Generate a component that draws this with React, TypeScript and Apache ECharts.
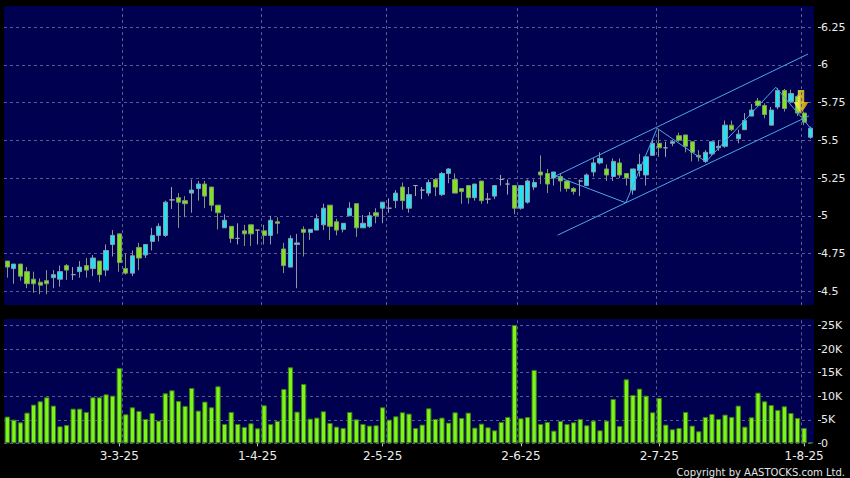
import React, { useEffect, useRef } from "react";
import * as echarts from "echarts";

// ---- data ----
const categories: string[] = Array.from({ length: 123 }, (_, i) => String(i));

const opens = [
  4.70, 4.65, 4.68, 4.63, 4.58, 4.56, 4.57, 4.59, 4.58, 4.67,
  4.61, 4.63, 4.67, 4.65, 4.70, 4.64, 4.81, 4.88, 4.65, 4.62,
  4.79, 4.74, 4.83, 4.87, 4.87, 5.105, 5.12, 5.10, 5.15, 5.18,
  5.21, 5.19, 5.07, 4.92, 4.93, 4.85, 4.90, 4.94, 4.905, 4.90,
  4.87, 4.96, 4.78, 4.66, 4.81, 4.91, 4.89, 4.905, 4.94, 5.07,
  4.96, 4.91, 5.00, 5.08, 4.92, 4.93, 5.02, 5.05, 5.05, 5.10,
  5.19, 5.05, 5.20, 5.17, 5.15, 5.24, 5.14, 5.28, 5.24, 5.18,
  5.20, 5.12, 5.23, 5.11, 5.13, 5.24, 5.21, 5.20, 5.05, 5.09,
  5.19, 5.29, 5.28, 5.25, 5.26, 5.23, 5.18, 5.23, 5.20, 5.29,
  5.35, 5.31, 5.26, 5.35, 5.28, 5.17, 5.30, 5.27, 5.40, 5.48,
  5.45, 5.48, 5.53, 5.535, 5.49, 5.40, 5.36, 5.41, 5.45, 5.46,
  5.60, 5.51, 5.57, 5.66, 5.76, 5.73, 5.60, 5.72, 5.83, 5.755,
  5.79, 5.68, 5.52,
];
const closes = [
  4.66, 4.68, 4.60, 4.55, 4.55, 4.54, 4.55, 4.61, 4.63, 4.64,
  4.61, 4.66, 4.64, 4.72, 4.61, 4.77, 4.87, 4.69, 4.62, 4.735,
  4.72, 4.81, 4.87, 4.93, 5.09, 5.105, 5.09, 5.08, 5.17, 5.21,
  5.13, 5.07, 5.02, 4.97, 4.85, 4.85, 4.88, 4.88, 4.905, 4.87,
  4.97, 4.95, 4.67, 4.85, 4.82, 4.89, 4.91, 4.98, 5.05, 4.93,
  4.905, 4.95, 5.05, 4.92, 4.95, 5.00, 5.00, 5.09, 5.05, 5.15,
  5.10, 5.14, 5.20, 5.17, 5.22, 5.19, 5.28, 5.31, 5.15, 5.16,
  5.12, 5.21, 5.10, 5.11, 5.20, 5.24, 5.21, 5.05, 5.20, 5.23,
  5.22, 5.27, 5.21, 5.29, 5.23, 5.18, 5.16, 5.23, 5.27, 5.35,
  5.38, 5.27, 5.36, 5.27, 5.25, 5.31, 5.34, 5.39, 5.48, 5.45,
  5.45, 5.49, 5.50, 5.46, 5.42, 5.39, 5.42, 5.49, 5.46, 5.60,
  5.57, 5.54, 5.63, 5.70, 5.73, 5.67, 5.70, 5.83, 5.71, 5.81,
  5.68, 5.62, 5.58,
];
const lows = [
  4.59, 4.55, 4.57, 4.52, 4.49, 4.48, 4.48, 4.52, 4.53, 4.575,
  4.575, 4.59, 4.59, 4.60, 4.56, 4.60, 4.73, 4.63, 4.61, 4.60,
  4.64, 4.72, 4.77, 4.83, 4.86, 5.045, 4.92, 4.99, 5.02, 5.10,
  5.05, 5.03, 4.91, 4.92, 4.82, 4.81, 4.80, 4.80, 4.81, 4.81,
  4.81, 4.88, 4.62, 4.66, 4.52, 4.73, 4.84, 4.905, 4.905, 4.84,
  4.87, 4.89, 5.00, 4.86, 4.92, 4.92, 4.95, 4.95, 5.02, 5.05,
  5.04, 5.02, 5.13, 5.11, 5.13, 5.13, 5.13, 5.215, 5.15, 5.08,
  5.08, 5.10, 5.08, 5.08, 5.11, 5.20, 5.14, 5.01, 5.04, 5.08,
  5.17, 5.21, 5.15, 5.20, 5.16, 5.16, 5.14, 5.13, 5.20, 5.26,
  5.34, 5.23, 5.23, 5.25, 5.20, 5.14, 5.26, 5.20, 5.40, 5.39,
  5.39, 5.46, 5.49, 5.42, 5.36, 5.36, 5.35, 5.40, 5.43, 5.45,
  5.56, 5.48, 5.57, 5.66, 5.72, 5.645, 5.60, 5.705, 5.69, 5.745,
  5.66, 5.60, 5.51,
];
const highs = [
  4.70, 4.68, 4.68, 4.66, 4.63, 4.585, 4.64, 4.64, 4.67, 4.68,
  4.66, 4.70, 4.72, 4.74, 4.70, 4.81, 4.905, 4.88, 4.75, 4.77,
  4.82, 4.81, 4.92, 4.95, 5.10, 5.19, 5.15, 5.13, 5.24, 5.23,
  5.23, 5.19, 5.07, 5.01, 4.93, 4.95, 4.94, 4.94, 4.905, 4.94,
  5.00, 4.99, 4.82, 4.87, 4.88, 4.93, 4.91, 5.01, 5.08, 5.07,
  4.98, 4.95, 5.09, 5.08, 5.005, 5.025, 5.05, 5.09, 5.115, 5.17,
  5.22, 5.19, 5.20, 5.19, 5.24, 5.25, 5.29, 5.315, 5.28, 5.18,
  5.20, 5.21, 5.23, 5.15, 5.20, 5.27, 5.24, 5.20, 5.20, 5.24,
  5.24, 5.40, 5.31, 5.29, 5.28, 5.23, 5.19, 5.24, 5.28, 5.38,
  5.42, 5.34, 5.38, 5.38, 5.28, 5.31, 5.41, 5.39, 5.50, 5.57,
  5.49, 5.50, 5.55, 5.535, 5.49, 5.435, 5.435, 5.49, 5.50, 5.63,
  5.63, 5.57, 5.68, 5.74, 5.78, 5.745, 5.72, 5.845, 5.84, 5.835,
  5.80, 5.69, 5.59,
];
const volumesK = [
  5.67, 5.03, 4.46, 6.52, 8.22, 8.93, 9.78, 8.01, 3.61, 3.90,
  7.37, 7.37, 6.66, 9.78, 9.78, 10.42, 10.13, 16.02, 6.17, 7.65,
  6.87, 5.17, 6.45, 4.82, 10.63, 11.27, 9.00, 7.94, 11.76, 6.95,
  8.86, 7.65, 12.12, 4.11, 6.66, 4.11, 3.47, 4.25, 3.19, 8.08,
  4.08, 4.75, 11.55, 16.16, 6.73, 12.62, 5.24, 5.46, 6.80, 4.32,
  3.54, 3.26, 6.66, 5.10, 4.11, 3.76, 3.83, 7.65, 5.03, 5.74,
  6.59, 6.31, 3.26, 3.97, 7.44, 5.17, 5.46, 4.39, 6.59, 5.39,
  6.52, 3.33, 4.18, 3.40, 2.76, 4.54, 5.60, 25.16, 5.32, 5.60,
  15.59, 4.11, 4.54, 2.69, 4.75, 4.11, 4.46, 5.17, 3.83, 4.82,
  2.76, 4.82, 9.43, 3.69, 13.61, 10.28, 11.62, 10.13, 6.59, 9.64,
  3.97, 2.98, 3.26, 6.66, 3.76, 2.55, 5.60, 6.24, 5.17, 6.10,
  5.60, 8.01, 3.54, 5.53, 10.77, 8.93, 8.15, 7.09, 7.87, 6.45,
  5.39, 3.26, 0.2,
];
const tickIndex = [17, 38, 57, 78, 99, 121];
const tickText = ["3-3-25", "1-4-25", "2-5-25", "2-6-25", "2-7-25", "1-8-25"];
// vertical dashed grid lines sit on these category boundaries
const gridLinePos = [17.5, 38.5, 57.5, 77.5, 98.6, 120.6];

// trend lines: [category index, price]
const upperChannel = [[83.27, 5.263], [121.6, 6.071]];
const lowerChannel = [[83.58, 4.872], [121.74, 5.661]];
const zigzag = [
  [83.27, 5.263], [93.92, 5.086], [98.68, 5.579],
  [106.08, 5.358], [116.7, 5.851], [122.05, 5.577],
];
const arrowPoint = [[120.53, 5.753]];

const NAVY = "#000050";
const GRID_LINE = "#5a5a8e";
const FONT = "DejaVu Sans";

export default function App() {
  const ref = useRef<HTMLDivElement>(null);
  useEffect(() => {
    if (!ref.current) return;
    const chart = echarts.init(ref.current, null, { renderer: "svg" });
    const n = categories.length;
    const panelLeft = 4;
    const panelRight = 36;

    const dashed = { color: GRID_LINE, type: [3, 3] as any, width: 1 };
    const hSplit = { show: true, lineStyle: dashed };
    const vLines = {
      silent: true,
      symbol: ["none", "none"],
      label: { show: false },
      lineStyle: dashed,
      data: gridLinePos.map((x) => ({ xAxis: x })),
    };
    const rightAxisCommon = {
      position: "right" as const,
      offset: 4,
      axisLine: { show: false },
      axisTick: { show: true, length: 3, lineStyle: { color: "#c8c8c8" } },
      axisLabel: { color: "#ececec", fontSize: 11, fontFamily: FONT, margin: 3 },
      splitLine: hSplit,
    };

    chart.setOption({
      animation: false,
      backgroundColor: "#000000",
      textStyle: { fontFamily: FONT },
      grid: [
        { left: panelLeft, right: panelRight, top: 6, height: 299, show: true, backgroundColor: NAVY, borderWidth: 0 },
        { left: panelLeft, right: panelRight, top: 27, height: 264.25, show: false },
        { left: panelLeft, right: panelRight, top: 319, height: 124.3, show: true, backgroundColor: NAVY, borderWidth: 0 },
        { left: panelLeft, right: panelRight, top: 325.7, height: 117.6, show: false },
      ],
      xAxis: [
        { gridIndex: 0, type: "category", data: categories, boundaryGap: true, show: false },
        { gridIndex: 0, type: "value", min: -0.5, max: n - 0.5, show: false, splitLine: { show: false } },
        { gridIndex: 1, type: "category", data: categories, show: false },
        { gridIndex: 2, type: "category", data: categories, boundaryGap: true, offset: 3,
          axisLine: { show: false },
          axisTick: { show: true, alignWithLabel: true, length: 3,
            interval: (idx: number) => tickIndex.indexOf(idx) >= 0, lineStyle: { color: "#c8c8c8" } },
          axisLabel: { show: true, interval: (idx: number) => tickIndex.indexOf(idx) >= 0,
            formatter: (v: string) => { const k = tickIndex.indexOf(Number(v)); return k >= 0 ? tickText[k] : ""; },
            color: "#ececec", fontSize: 12, fontFamily: FONT, margin: 4 },
          splitLine: { show: false } },
        { gridIndex: 3, type: "category", data: categories, show: false },
        { gridIndex: 2, type: "value", min: -0.5, max: n - 0.5, show: false, splitLine: { show: false } },
      ],
      yAxis: [
        { gridIndex: 0, type: "value", min: 4.409, max: 6.389, show: false, splitLine: { show: false } },
        { gridIndex: 1, type: "value", min: 4.5, max: 6.25, interval: 0.25, ...rightAxisCommon },
        { gridIndex: 2, type: "value", min: 0, max: 26420, show: false, splitLine: { show: false } },
        { gridIndex: 3, type: "value", min: 0, max: 25000, interval: 5000, ...rightAxisCommon,
          axisLabel: { ...rightAxisCommon.axisLabel, formatter: (v: number) => (v === 0 ? "0" : v / 1000 + "K") } },
      ],
      series: [
        // vertical grid lines (price panel)
        { type: "line", xAxisIndex: 1, yAxisIndex: 0, z: 1, data: [[-0.5, 4.409]], symbol: "none",
          lineStyle: { opacity: 0 }, markLine: vLines },
        // vertical grid lines (volume panel)
        { type: "line", xAxisIndex: 5, yAxisIndex: 2, z: 1, data: [[-0.5, 0]], symbol: "none",
          lineStyle: { opacity: 0 }, markLine: vLines },
        {
          type: "candlestick", xAxisIndex: 0, yAxisIndex: 0, z: 2,
          data: opens.map((o, i) => [o, closes[i], lows[i], highs[i]]),
          barWidth: "72%",
          itemStyle: {
            color: "#1fe3f3", color0: "#7fe324",
            borderColor: "#8d9aa6", borderColor0: "#7f9a6c", borderColorDoji: "#a4a4ac",
            borderWidth: 1,
          },
        },
        { type: "line", xAxisIndex: 1, yAxisIndex: 0, z: 3, data: upperChannel, symbol: "none",
          lineStyle: { color: "#4aa8e6", width: 1 } },
        { type: "line", xAxisIndex: 1, yAxisIndex: 0, z: 3, data: lowerChannel, symbol: "none",
          lineStyle: { color: "#4aa8e6", width: 1 } },
        { type: "line", xAxisIndex: 1, yAxisIndex: 0, z: 3, data: zigzag, symbol: "none",
          lineStyle: { color: "#4aa8e6", width: 1 } },
        { type: "scatter", xAxisIndex: 1, yAxisIndex: 0, z: 4, data: arrowPoint,
          symbol: "path://M4,0 L10,0 L10,11 L14,11 L7,22 L0,11 L4,11 Z", symbolSize: [15, 24],
          itemStyle: { color: new echarts.graphic.LinearGradient(0, 0, 1, 0, [
            { offset: 0, color: "#fff46e" }, { offset: 0.55, color: "#ffe020" }, { offset: 1, color: "#f0b000" },
          ]) } },
        {
          type: "bar", xAxisIndex: 3, yAxisIndex: 2, z: 2,
          data: volumesK.map((v) => v * 1000),
          barWidth: "80%",
          itemStyle: { color: "#7ef51a", borderColor: "#3d7d14", borderWidth: 1 },
        },
      ],
      graphic: [
        { type: "text", right: 5, bottom: 1,
          style: { text: "Copyright by AASTOCKS.com Ltd.", fill: "#e4e4e4", font: `10px "${FONT}"` } },
      ],
    });
    return () => chart.dispose();
  }, []);
  return <div ref={ref} style={{ position: "fixed", left: 0, top: 0, width: 850, height: 478 }} />;
}
